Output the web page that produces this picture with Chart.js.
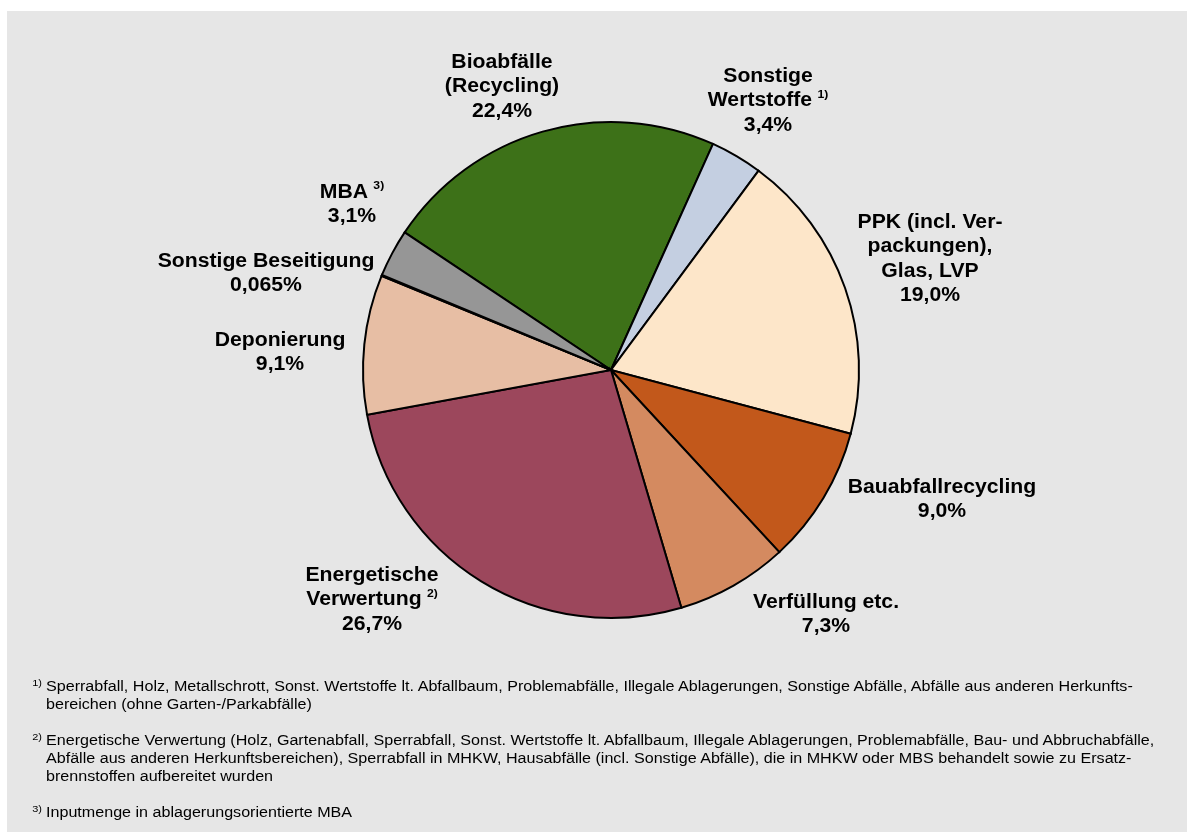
<!DOCTYPE html>
<html>
<head>
<meta charset="utf-8">
<script src="https://cdn.jsdelivr.net/npm/chart.js@4/dist/chart.umd.min.js"></script>
<style>
  html, body { margin: 0; padding: 0; background: #fff; }
  #wrap { position: relative; width: 1187px; height: 832px; }
  #chart { position: absolute; left: 0; top: 0; }
  .note { position: absolute; left: 46px; width: 980px; font-family: "Liberation Sans", Arial, sans-serif;
          font-size: 14px; line-height: 18px; color: #000; white-space: nowrap;
          transform: scaleX(1.15); transform-origin: 0 0; }
  .note sup { position: absolute; left: -12px; font-size: 9.5px; line-height: 9px; top: 1px; }
</style>
</head>
<body>
<div id="wrap">
  <canvas id="chart" width="1187" height="832"></canvas>
  <div class="note" style="top:677px"><sup>1)</sup>Sperrabfall, Holz, Metallschrott, Sonst. Wertstoffe lt. Abfallbaum, Problemabfälle, Illegale Ablagerungen, Sonstige Abfälle, Abfälle aus anderen Herkunfts-<br>bereichen (ohne Garten-/Parkabfälle)</div>
  <div class="note" style="top:731px"><sup>2)</sup>Energetische Verwertung (Holz, Gartenabfall, Sperrabfall, Sonst. Wertstoffe lt. Abfallbaum, Illegale Ablagerungen, Problemabfälle, Bau- und Abbruchabfälle,<br>Abfälle aus anderen Herkunftsbereichen), Sperrabfall in MHKW, Hausabfälle (incl. Sonstige Abfälle), die in MHKW oder MBS behandelt sowie zu Ersatz-<br>brennstoffen aufbereitet wurden</div>
  <div class="note" style="top:803px"><sup>3)</sup>Inputmenge in ablagerungsorientierte MBA</div>
</div>
<script>
// Categories (clockwise, starting with Bioabfälle)
const categories = [
    ['Bioabfälle', '(Recycling)'],
    ['Sonstige', 'Wertstoffe'],
    ['PPK (incl. Ver-', 'packungen),', 'Glas, LVP'],
    ['Bauabfallrecycling'],
    ['Verfüllung etc.'],
    ['Energetische', 'Verwertung'],
    ['Deponierung'],
    ['Sonstige Beseitigung'],
    ['MBA']
];
// footnote marks, placed after the last name line
const footnoteMarks = ['', '1)', '', '', '', '2)', '', '', '3)'];
// shares in percent
const shares = [22.4, 3.4, 19.0, 9.0, 7.3, 26.7, 9.1, 0.065, 3.1];

const sliceColors = ['#3d7118', '#c4cfe1', '#fde6c9', '#c2581b', '#d48a60', '#9c475c', '#e7bea4', '#000000', '#969696'];

// label anchor (centre of the text block's first line) relative to the pie centre
const labelOffsets = [
    [-109, -308], [157, -294], [319, -148], [331, 117], [215, 232],
    [-239, 205], [-331, -30], [-345, -109], [-259, -178]
];

const lineHeight = 24.5;
const stretch = 1.06;

function fmt(v) {
    return v.toLocaleString('de-DE', { minimumFractionDigits: 1, maximumFractionDigits: 3 }) + '%';
}

const panelPlugin = {
    id: 'panel',
    beforeDraw(chart) {
        const ctx = chart.ctx;
        ctx.save();
        ctx.fillStyle = '#e6e6e6';
        ctx.fillRect(7, 11, chart.width - 7, chart.height - 11);
        ctx.restore();
    }
};

const labelPlugin = {
    id: 'sliceLabels',
    afterDraw(chart) {
        const ctx = chart.ctx;
        const arc = chart.getDatasetMeta(0).data[0];
        const cx = arc.x, cy = arc.y;
        ctx.save();
        ctx.fillStyle = '#000';
        ctx.textBaseline = 'middle';
        ctx.textAlign = 'left';
        const bold = 'bold 20px "Liberation Sans", Arial, sans-serif';
        const supFont = 'bold 11.5px "Liberation Sans", Arial, sans-serif';
        categories.forEach((lines, i) => {
            const all = lines.concat([fmt(shares[i])]);
            const x0 = cx + labelOffsets[i][0];
            let y = cy + labelOffsets[i][1];
            all.forEach((line, j) => {
                const sup = (j === lines.length - 1) ? footnoteMarks[i] : '';
                ctx.font = bold;
                const w = ctx.measureText(line).width;
                let supW = 0;
                if (sup) {
                    ctx.font = supFont;
                    supW = ctx.measureText(sup).width + 5;
                }
                const left = x0 - (w + supW) * stretch / 2;
                ctx.save();
                ctx.translate(left, y);
                ctx.scale(stretch, 1);
                ctx.font = bold;
                ctx.fillText(line, 0, 0);
                if (sup) {
                    ctx.font = supFont;
                    ctx.fillText(sup, w + 5, -6);
                }
                ctx.restore();
                y += lineHeight;
            });
        });
        ctx.restore();
    }
};

new Chart(document.getElementById('chart'), {
    type: 'pie',
    data: {
        labels: categories.map(c => c.join(' ')),
        datasets: [{
            data: shares,
            backgroundColor: sliceColors,
            borderColor: '#000',
            borderWidth: 2,
            borderJoinStyle: 'miter'
        }]
    },
    options: {
        responsive: false,
        animation: false,
        rotation: -56.3,
        radius: 248,
        layout: { padding: { left: 100, right: 65, top: 100, bottom: 192 } },
        plugins: {
            legend: { display: false },
            tooltip: { enabled: false }
        }
    },
    plugins: [panelPlugin, labelPlugin]
});
</script>
</body>
</html>
